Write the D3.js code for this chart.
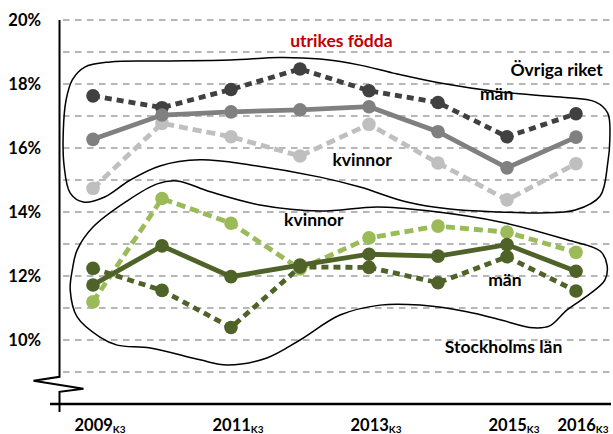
<!DOCTYPE html>
<html><head><meta charset="utf-8">
<script src="https://cdn.jsdelivr.net/npm/d3@7"></script>
<style>
html,body{margin:0;padding:0;background:#fff;}
svg{display:block;font-family:Lato,"Open Sans",sans-serif;}
</style></head>
<body>
<svg id="c" width="613" height="434"></svg>
<script>
// ---- data ----
const years = ["2009","2010","2011","2012","2013","2014","2015","2016"];
const xTickLabels = ["2009","","2011","","2013","","2015","2016"];
const yTicks = [20,18,16,14,12,10];
const gridValues = [9,10,11,12,13,14,15,16,17,18,19,20];

const ovrigaMan     = [17.63,17.26,17.83,18.47,17.79,17.42,16.35,17.07];
const ovrigaTotal   = [16.27,17.03,17.13,17.19,17.29,16.51,15.38,16.34];
const ovrigaKvinnor = [14.74,16.77,16.35,15.75,16.74,15.53,14.38,15.51];
const sthlmMan      = [12.24,11.55,10.39,12.28,12.27,11.79,12.60,11.53];
const sthlmTotal    = [11.72,12.94,11.98,12.34,12.68,12.62,12.98,12.15];
const sthlmKvinnor  = [11.19,14.42,13.65,12.22,13.19,13.56,13.37,12.74];

// free-hand outlines, in data units [year index, percent]
const ovrigaOutline = [[-0.43,16.56],[-0.39,17.5],[-0.30,18.13],[-0.12,18.53],[0.25,18.69],[0.97,18.72],[1.99,18.75],[2.71,18.83],[3.29,18.78],[3.87,18.59],[4.35,18.34],[5.03,18.03],[5.90,17.75],[6.77,17.59],[7.28,17.44],[7.46,17.09],[7.49,16.25],[7.46,15.53],[7.35,14.5],[6.99,14.06],[6.48,13.97],[5.90,14.0],[5.17,14.09],[4.55,14.31],[3.87,14.78],[3.29,15.09],[2.28,15.47],[1.55,15.63],[0.97,15.44],[0.54,15.0],[0.17,14.47],[-0.14,14.31],[-0.33,14.59],[-0.42,15.47]];
const sthlmOutline = [[-0.30,12.19],[-0.23,12.81],[0,13.53],[0.49,14.34],[0.93,14.88],[1.22,14.97],[1.70,14.63],[2.42,14.22],[3.29,14.03],[4.12,14.16],[4.88,14.03],[5.90,13.69],[6.87,13.13],[7.35,12.78],[7.45,12.34],[7.42,11.88],[7.20,11.44],[6.87,10.94],[6.62,10.44],[6.38,10.38],[5.90,10.63],[5.42,10.88],[4.74,11.09],[4.16,11.09],[3.58,10.78],[3.0,10.0],[2.52,9.44],[1.94,9.22],[1.55,9.38],[0.83,9.75],[0.35,9.84],[0.10,10.09],[-0.23,10.72],[-0.33,11.56]];

// annotation texts: [text, year index, percent, colour]
const annotations = [
  ["utrikes födda", 3.6, 19.15, "#c00000"],
  ["Övriga riket", 6.72, 18.25, "#000"],
  ["män", 5.85, 17.5, "#000"],
  ["kvinnor", 3.9, 15.45, "#000"],
  ["kvinnor", 3.2, 13.55, "#000"],
  ["män", 5.97, 11.7, "#000"],
  ["Stockholms län", 5.95, 9.6, "#000"]
];

const series = [
  {v: ovrigaKvinnor, c:"#bfbfbf", dash:"9,5"},
  {v: ovrigaMan,     c:"#404040", dash:"7,5"},
  {v: ovrigaTotal,   c:"#808080", dash:null},
  {v: sthlmKvinnor,  c:"#9bbb59", dash:"9,5"},
  {v: sthlmMan,      c:"#4f6228", dash:"7,5"},
  {v: sthlmTotal,    c:"#4f6228", dash:null}
];

// ---- chart ----
const svg = d3.select("#c");
const x = d3.scaleLinear().domain([0,7]).range([93,576]);
const y = d3.scaleLinear().domain([8,20]).range([404,20]);
const axisX = 59.5;

// gridlines
svg.append("g").selectAll("line").data(gridValues).join("line")
  .attr("x1",63).attr("x2",612)
  .attr("y1",d=>y(d)).attr("y2",d=>y(d))
  .attr("stroke","#a0a0a0").attr("stroke-width",1.5)
  .attr("stroke-dasharray","6.5,5.5");

// y axis with break
const yb = y(8.85);
svg.append("path")
  .attr("d",`M${axisX},${y(20)}V${yb}L${axisX-26},${yb+4}L${axisX+24},${yb+12}L${axisX},${yb+15}V${y(8)+8}`)
  .attr("fill","none").attr("stroke","#000").attr("stroke-width",2);
// x axis
svg.append("line").attr("x1",50).attr("x2",611).attr("y1",y(8)).attr("y2",y(8))
  .attr("stroke","#000").attr("stroke-width",2.5);

// y tick labels
svg.append("g").selectAll("text").data(yTicks).join("text")
  .attr("x",41).attr("y",d=>y(d)).attr("dy","0.36em")
  .attr("text-anchor","end").attr("font-size",16.5).attr("font-weight","bold")
  .text(d=>d+"%");

// x tick labels
const xl = svg.append("g").selectAll("text")
  .data(xTickLabels.map((t,i)=>({t,i})).filter(d=>d.t))
  .join("text")
  .attr("x",d=>x(d.i)+7).attr("y",431)
  .attr("text-anchor","middle").attr("font-weight","bold").attr("font-size",16.5);
xl.append("tspan").text(d=>d.t);
xl.append("tspan").attr("font-size",10).attr("dy",2).text("K3");

// outlines
const outline = d3.line().x(d=>x(d[0])).y(d=>y(d[1])).curve(d3.curveCatmullRomClosed.alpha(0.5));
[ovrigaOutline, sthlmOutline].forEach(o=>{
  svg.append("path").attr("d",outline(o)).attr("fill","none")
    .attr("stroke","#000").attr("stroke-width",1.5);
});

// series
const line = d3.line().x((d,i)=>x(i)).y(d=>y(d));
series.forEach(s=>{
  const g = svg.append("g");
  g.append("path").attr("d",line(s.v)).attr("fill","none")
    .attr("stroke",s.c).attr("stroke-width",4.8)
    .attr("stroke-dasharray",s.dash);
  g.selectAll("circle").data(s.v).join("circle")
    .attr("cx",(d,i)=>x(i)).attr("cy",d=>y(d)).attr("r",6.8).attr("fill",s.c);
});

// annotations
svg.append("g").selectAll("text").data(annotations).join("text")
  .attr("x",d=>x(d[1])).attr("y",d=>y(d[2]))
  .attr("text-anchor","middle").attr("font-weight","bold").attr("font-size",17.5)
  .attr("fill",d=>d[3]).text(d=>d[0]);
</script>
</body></html>
